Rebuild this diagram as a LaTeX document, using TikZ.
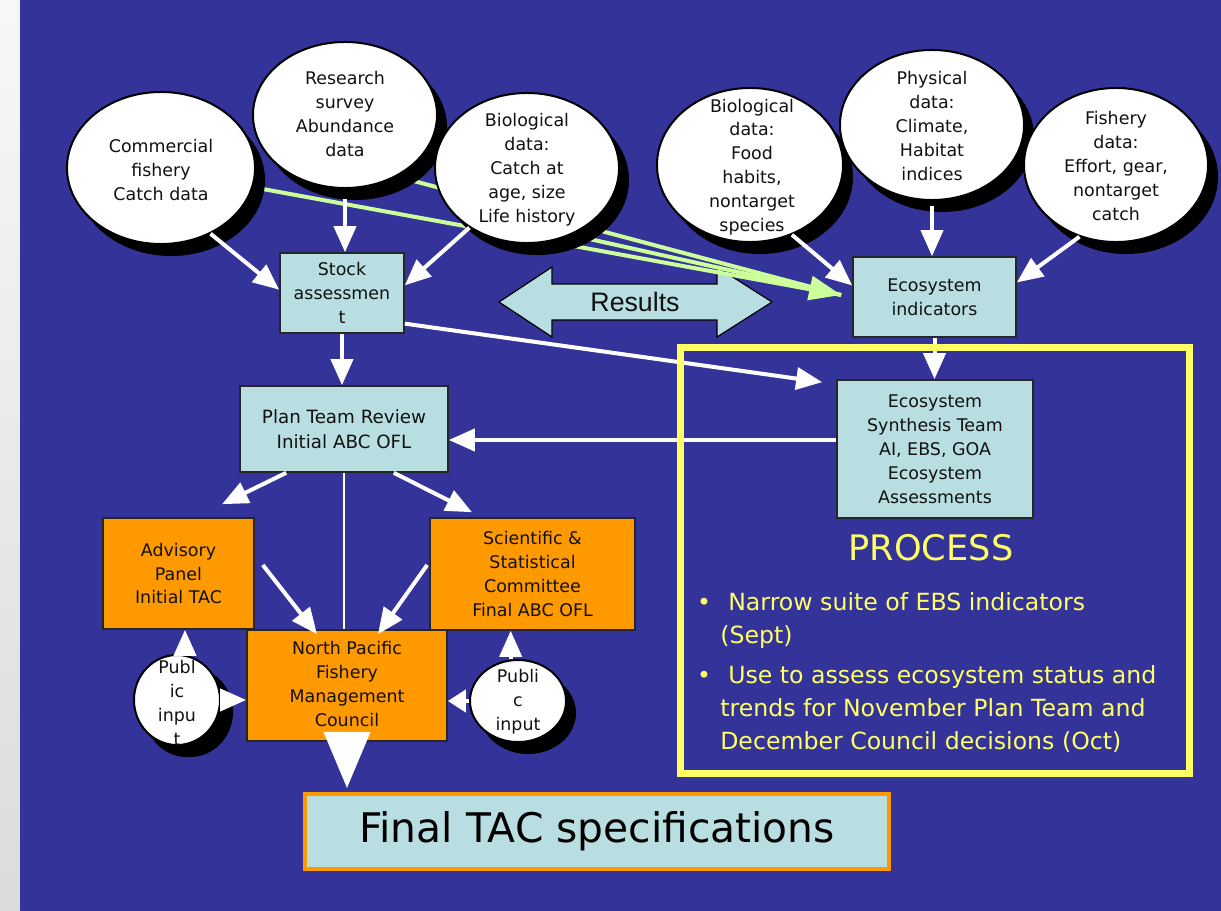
\documentclass[tikz,border=0pt]{standalone}
\usepackage{fontspec}
\setmainfont{DejaVu Sans}
\newfontfamily\arialfont{Liberation Sans}
\usetikzlibrary{shapes.geometric,arrows.meta,shadows,calc}
\definecolor{bg}{RGB}{52,51,153}
\definecolor{boxblue}{RGB}{184,222,226}
\definecolor{orangebox}{RGB}{255,153,0}
\definecolor{yel}{RGB}{255,255,102}
\definecolor{grn}{RGB}{204,255,153}
\definecolor{ink}{RGB}{17,17,17}
\begin{document}
\begin{tikzpicture}[x=0.025cm,y=-0.025cm,
  txt/.style={font=\fontsize{12.4}{17}\selectfont, align=center, text=ink, inner sep=0pt},
  blob/.style={ellipse, draw=black, line width=0.05cm, fill=white, inner sep=0pt,
    drop shadow={shadow xshift=0.25cm, shadow yshift=-0.3cm, fill=black, opacity=1}},
  bluebox/.style={rectangle, draw=black!85, line width=0.04cm, fill=boxblue, inner sep=0pt,
    font=\fontsize{12.4}{17}\selectfont, align=center, text=ink},
  orangebx/.style={bluebox, fill=orangebox},
  arr/.style={draw=white, line width=0.1cm, -{Triangle[length=0.65cm,width=0.55cm]}},
  garr/.style={draw=grn, line width=0.1cm},
  bul/.style={font=\fontsize{16.8}{23.5}\selectfont, text=yel, inner sep=0pt, anchor=base west}
]
\useasboundingbox (0,0) rectangle (1221,911);
% background
\shade[top color=gray!6, middle color=gray!38, bottom color=gray!28] (0,0) rectangle (20,911);
\fill[bg] (20,0) rectangle (1221,911);

% Results double arrow
\draw[fill=boxblue, draw=black, line width=0.03cm]
  (499,302) -- (552,267) -- (552,284) -- (717,284) -- (717,267) -- (772,302)
  -- (717,337) -- (717,320) -- (552,320) -- (552,337) -- cycle;
\node[font=\arialfont\fontsize{19}{22}\selectfont, text=ink, inner sep=0pt] (results) at (635,302) {Results};

% boxes
\node[bluebox, minimum width=3.1cm, minimum height=2cm] (stock) at (342,293) {Stock\\assessmen\\t};
\node[bluebox, minimum width=4.075cm, minimum height=2cm] (ecoind) at (934.5,297) {Ecosystem\\indicators};
\node[bluebox, minimum width=5.2cm, minimum height=2.15cm, font=\fontsize{13}{17.5}\selectfont] (plan) at (344,429) {Plan Team Review\\Initial ABC OFL};
\node[bluebox, minimum width=4.9cm, minimum height=3.45cm] (esteam) at (935,449) {Ecosystem\\Synthesis Team\\AI, EBS, GOA\\Ecosystem\\Assessments};
\node[orangebx, minimum width=3.775cm, minimum height=2.775cm] (advisory) at (178.5,573.5) {Advisory\\Panel\\Initial TAC};
\node[orangebx, minimum width=5.125cm, minimum height=2.8cm] (ssc) at (532.5,574) {Scientific \&\\Statistical\\Committee\\Final ABC OFL};
\node[orangebx, minimum width=5cm, minimum height=2.775cm] (council) at (347,685.5) {};
\node[txt] (council-t) at (347,684) {North Pacific\\Fishery\\Management\\Council};
\node[draw=orangebox, line width=0.1cm, fill=boxblue, minimum width=14.6cm, minimum height=1.875cm,
  inner sep=0pt, text=black, font=\fontsize{29}{34}\selectfont] (final) at (597,831.5) {Final TAC specifications};

% green arrows (behind ellipses)
\coordinate (g1) at (230,183);
\coordinate (g2) at (380,172);
\coordinate (g3) at (540,228);
\coordinate (gtip) at ([xshift=-0.275cm,yshift=0.05cm]ecoind.west);
\draw[garr] (g1) -- (gtip);
\draw[garr] (g2) -- (gtip);
\draw[garr, -{Triangle[length=0.8cm,width=0.6cm]}] (g3) -- (gtip);

% ellipses
\node[blob, minimum width=4.7cm, minimum height=3.8cm] (commercial) at (161,168) {};
\node[txt] (commercial-t) at (161,170) {Commercial\\fishery\\Catch data};
\node[blob, minimum width=4.6cm, minimum height=3.65cm] (research) at (345,115) {};
\node[txt] (research-t) at (345,114) {Research\\survey\\Abundance\\data};
\node[blob, minimum width=4.6cm, minimum height=3.75cm] (biocatch) at (527,168) {};
\node[txt] (biocatch-t) at (527,170) {Biological\\data:\\Catch at\\age, size\\Life history};
\node[blob, minimum width=4.65cm, minimum height=3.85cm] (food) at (750,165) {};
\node[txt] (food-t) at (752,167) {Biological\\data:\\Food\\habits,\\nontarget\\species};
\node[blob, minimum width=4.6cm, minimum height=3.75cm] (physical) at (932,125) {};
\node[txt] (physical-t) at (932,126) {Physical\\data:\\Climate,\\Habitat\\indices};
\node[blob, minimum width=4.6cm, minimum height=3.85cm] (fishery) at (1116,165) {};
\node[txt] (fishery-t) at (1116,166) {Fishery\\data:\\Effort, gear,\\nontarget\\catch};

% public input circles
\node[blob, minimum width=2.15cm, minimum height=2.25cm, drop shadow={shadow xshift=0.325cm, shadow yshift=-0.3cm, fill=black, opacity=1}] (pubL) at (177,700) {};
\node[txt] (pubL-t) at (177,703) {Publ\\ic\\inpu\\t};
\node[blob, minimum width=2.4cm, minimum height=2.05cm] (pubR) at (518,701) {};
\node[txt] (pubR-t) at (518,702) {Publi\\c\\input};

% white arrows
\draw[arr] (commercial.-53) -- (stock.177);
\draw[arr, shorten <=0.25cm] (research.south) -- (research.south |- stock.north);
\draw[arr] (biocatch.-134) -- (stock.7);
\draw[arr] (food.-59) -- (ecoind.172);
\draw[arr, shorten <=0.12cm] (physical.south) -- (physical.south |- ecoind.north);
\draw[arr] (fishery.-117) -- (ecoind.10);
\draw[arr] (stock.south) -- (stock.south |- plan.north);
\draw[arr] (ecoind.south) -- (ecoind.south |- esteam.north);
\draw[arr] (stock.-26) -- ([xshift=-0.35cm,yshift=-0.075cm]esteam.north west);
\draw[arr] ([yshift=0.225cm]esteam.west) -- ([yshift=0.225cm]esteam.west -| plan.east);
\draw[arr] ([xshift=1.175cm]plan.south west) -- ([shift={(1.0875cm,0.325cm)}]advisory.north);
\draw[arr] ([xshift=-1.375cm]plan.south east) -- ([shift={(-1.5125cm,0.125cm)}]ssc.north);
\draw[draw=white, line width=0.0375cm] (plan.south) -- (plan.south |- council.north);
\draw[arr] ([shift={(0.2cm,0.2125cm)}]advisory.east) -- ([shift={(-0.75cm,-0.125cm)}]council.north);
\draw[arr] ([shift={(-0.05cm,0.225cm)}]ssc.west) -- ([shift={(0.775cm,-0.125cm)}]council.north);
\draw[arr] (pubL.80) -- (pubL.80 |- advisory.south);
\draw[arr] (pubL.east) -- (pubL.east -| council.west);
\draw[arr] (pubR.100) -- (pubR.100 |- ssc.south);
\draw[draw=white, line width=0.1cm, -{Triangle[length=0.45cm,width=0.55cm]}] (pubR.west) -- (pubR.west -| council.east);
\draw[draw=white, line width=0.1cm, -{Triangle[length=1.4cm,width=1.15cm]}] ([yshift=0.1cm]council.south) -- ([yshift=0.1cm]council.south |- final.north);

% PROCESS box
\node[draw=yel, line width=0.175cm, minimum width=12.7cm, minimum height=10.625cm, inner sep=0pt] (processbox) at (935,560.5) {};
\node[font=\fontsize{25}{30}\selectfont, text=yel, inner sep=0pt] (process) at (931,548) {PROCESS};
\node[bul, anchor=base] (b1) at (704,610) {•};
\node[bul] (l1) at (728,610) {Narrow suite of EBS indicators};
\node[bul] (l2) at (720,643) {(Sept)};
\node[bul, anchor=base] (b2) at (704,683) {•};
\node[bul] (l3) at (728,683) {Use to assess ecosystem status and};
\node[bul] (l4) at (720,716) {trends for November Plan Team and};
\node[bul] (l5) at (720,749) {December Council decisions (Oct)};
\end{tikzpicture}
\end{document}
